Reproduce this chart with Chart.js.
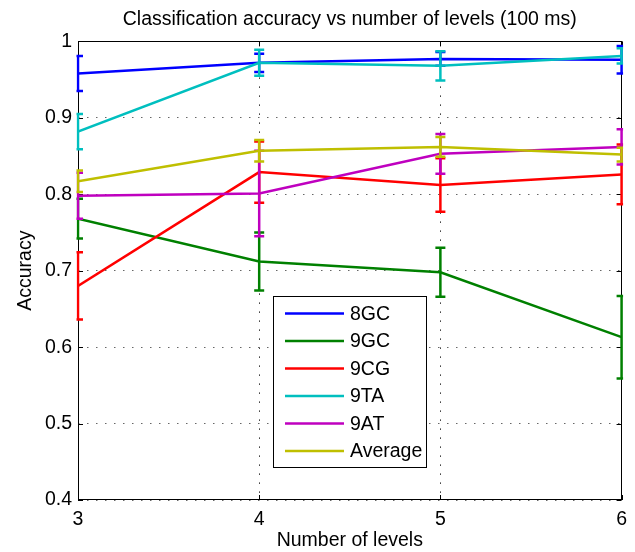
<!DOCTYPE html>
<html>
<head>
<meta charset="utf-8">
<title>Classification accuracy vs number of levels</title>
<script src="https://cdn.jsdelivr.net/npm/chart.js@4.4.0/dist/chart.umd.min.js"></script>
<style>
  body { margin: 0; background: #fff; }
</style>
</head>
<body>
<canvas id="accChart" width="635" height="552"></canvas>
<script>
// x categories (number of levels) and tick labels
const levels = [3, 4, 5, 6];
const xTickLabels = ['3', '4', '5', '6'];
const yTicks = [0.4, 0.5, 0.6, 0.7, 0.8, 0.9, 1];
const yTickLabels = ['0.4', '0.5', '0.6', '0.7', '0.8', '0.9', '1'];

const seriesNames = ['8GC', '9GC', '9CG', '9TA', '9AT', 'Average'];

// mean accuracy per series
const acc8GC = [0.958, 0.972, 0.977, 0.976];
const acc9GC = [0.768, 0.712, 0.698, 0.613];
const acc9CG = [0.680, 0.829, 0.812, 0.826];
const acc9TA = [0.882, 0.972, 0.968, 0.981];
const acc9AT = [0.798, 0.801, 0.853, 0.862];
const accAvg = [0.817, 0.857, 0.862, 0.852];

// error bar half-lengths
const err8GC = [0.023, 0.012, 0.009, 0.018];
const err9GC = [0.026, 0.038, 0.032, 0.054];
const err9CG = [0.044, 0.040, 0.035, 0.039];
const err9TA = [0.023, 0.017, 0.019, 0.010];
const err9AT = [0.030, 0.056, 0.026, 0.023];
const errAvg = [0.014, 0.014, 0.013, 0.009];

const allValues = [acc8GC, acc9GC, acc9CG, acc9TA, acc9AT, accAvg];
const allErrors = [err8GC, err9GC, err9CG, err9TA, err9AT, errAvg];
const colors = ['#0000ff', '#008000', '#ff0000', '#00bfbf', '#bf00bf', '#bfbf00'];

const FONT = '"Liberation Sans", Arial, Helvetica, sans-serif';
const FSIZE = 19.5;

Chart.defaults.font.family = FONT;
Chart.defaults.font.size = FSIZE;
Chart.defaults.color = '#000';

// matlab style box with inward ticks, drawn under the data
const axesBox = {
    id: 'axesBox',
    beforeDatasetsDraw(chart) {
        const { ctx, chartArea: a, scales } = chart;
        ctx.save();
        ctx.strokeStyle = '#000';
        ctx.lineWidth = 1;
        ctx.strokeRect(Math.round(a.left) + 0.5, Math.round(a.top) + 0.5,
            Math.round(a.width) - 1, Math.round(a.height) - 1);
        ctx.beginPath();
        scales.x.ticks.forEach(t => {
            const px = Math.round(scales.x.getPixelForValue(t.value)) + 0.5;
            ctx.moveTo(px, a.bottom); ctx.lineTo(px, a.bottom - 5);
            ctx.moveTo(px, a.top); ctx.lineTo(px, a.top + 5);
        });
        scales.y.ticks.forEach(t => {
            const py = Math.round(scales.y.getPixelForValue(t.value)) + 0.5;
            ctx.moveTo(a.left, py); ctx.lineTo(a.left + 5, py);
            ctx.moveTo(a.right, py); ctx.lineTo(a.right - 5, py);
        });
        ctx.stroke();
        ctx.restore();
    }
};

// error bars drawn right after each series line
const errorBars = {
    id: 'errorBars',
    afterDatasetDraw(chart, args) {
        const ds = chart.data.datasets[args.index];
        const { ctx, chartArea: a, scales: { x, y } } = chart;
        ctx.save();
        ctx.beginPath();
        ctx.rect(a.left - 1.5, a.top - 2, a.width + 3, a.height + 4);
        ctx.clip();
        ctx.strokeStyle = ds.borderColor;
        ctx.lineWidth = 2.5;
        ds.data.forEach((p, i) => {
            const px = x.getPixelForValue(p.x);
            const top = y.getPixelForValue(p.y + ds.errors[i]);
            const bot = y.getPixelForValue(p.y - ds.errors[i]);
            ctx.beginPath();
            ctx.moveTo(px, top); ctx.lineTo(px, bot);
            ctx.moveTo(px - 5, top); ctx.lineTo(px + 5, top);
            ctx.moveTo(px - 5, bot); ctx.lineTo(px + 5, bot);
            ctx.stroke();
        });
        ctx.restore();
    }
};

// legend box inside the axes
const boxLegend = {
    id: 'boxLegend',
    afterDraw(chart) {
        const { ctx, chartArea: a } = chart;
        const left = Math.round(a.left + 195), top = Math.round(a.top + 255);
        const w = 153, h = 171;
        ctx.save();
        ctx.fillStyle = '#fff';
        ctx.fillRect(left, top, w, h);
        ctx.strokeStyle = '#000';
        ctx.lineWidth = 1;
        ctx.strokeRect(left + 0.5, top + 0.5, w, h);
        ctx.font = FSIZE + 'px ' + FONT;
        ctx.textBaseline = 'middle';
        chart.data.datasets.forEach((ds, i) => {
            const yy = top + 17.5 + i * 27.5;
            ctx.strokeStyle = ds.borderColor;
            ctx.lineWidth = 2.5;
            ctx.beginPath();
            ctx.moveTo(left + 12, yy);
            ctx.lineTo(left + 71, yy);
            ctx.stroke();
            ctx.fillStyle = '#000';
            ctx.fillText(ds.label, left + 77, yy + 1);
        });
        ctx.restore();
    }
};

const datasets = seriesNames.map((name, k) => ({
    label: name,
    data: levels.map((lv, i) => ({ x: lv, y: allValues[k][i] })),
    errors: allErrors[k],
    borderColor: colors[k],
    backgroundColor: colors[k],
    borderWidth: 2.5,
    pointRadius: 0,
    tension: 0,
    fill: false,
    order: seriesNames.length - k
}));

const ctx = document.getElementById('accChart').getContext('2d');
const accChart = new Chart(ctx, {
    type: 'line',
    data: { datasets: datasets },
    plugins: [axesBox, errorBars, boxLegend],
    options: {
        responsive: false,
        animation: false,
        devicePixelRatio: 1,
        layout: { padding: { top: 0, right: 12, bottom: 0, left: 0 } },
        plugins: {
            legend: { display: false },
            tooltip: { enabled: false },
            title: {
                display: true,
                text: 'Classification accuracy vs number of levels (100 ms)',
                fullSize: false,
                color: '#000',
                font: { size: FSIZE, weight: 'normal' },
                padding: { top: 8, bottom: 10 }
            }
        },
        scales: {
            x: {
                type: 'linear',
                min: 3,
                max: 6,
                afterBuildTicks: s => { s.ticks = levels.map(v => ({ value: v })); },
                afterFit: s => { s.height = 52; },
                ticks: {
                    callback: (v, i) => xTickLabels[i],
                    padding: 8,
                    maxRotation: 0
                },
                grid: { color: '#333', lineWidth: 1, drawTicks: false },
                border: { display: false, dash: [1.5, 7.5] },
                title: {
                    display: true,
                    text: 'Number of levels',
                    padding: { top: 0, bottom: 0 }
                }
            },
            y: {
                min: 0.4,
                max: 1,
                afterBuildTicks: s => { s.ticks = yTicks.map(v => ({ value: v })); },
                afterFit: s => { s.width = 78; },
                ticks: {
                    callback: (v, i) => yTickLabels[i],
                    padding: 6
                },
                grid: { color: '#666', lineWidth: 1, drawTicks: false },
                border: { display: false, dash: [1.5, 7.5] },
                title: {
                    display: true,
                    text: 'Accuracy',
                    padding: { top: 14, bottom: 0 }
                }
            }
        }
    }
});
</script>
</body>
</html>
